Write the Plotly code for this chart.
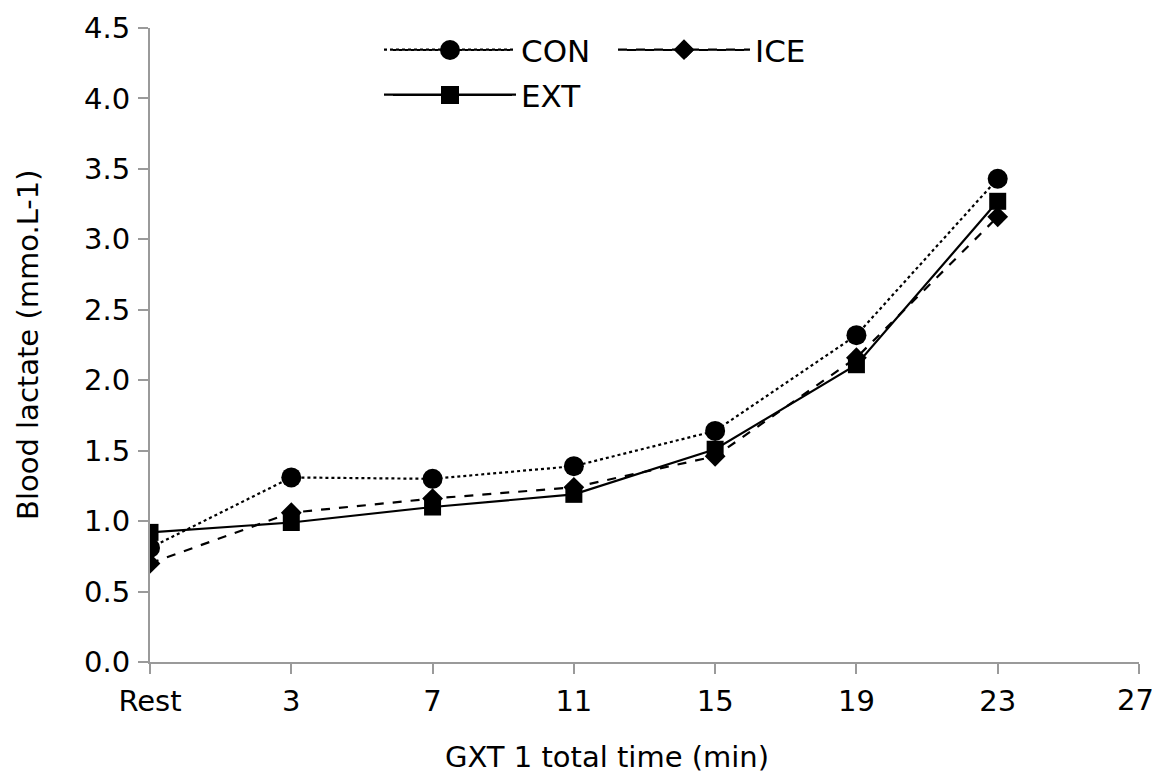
import plotly.graph_objects as go

categories = ["Rest", "3", "7", "11", "15", "19", "23", "27"]
con = [0.81, 1.31, 1.30, 1.39, 1.64, 2.32, 3.43]
ice = [0.70, 1.06, 1.16, 1.24, 1.46, 2.16, 3.16]
ext = [0.92, 0.99, 1.10, 1.19, 1.51, 2.11, 3.27]
y_ticks = [0.0, 0.5, 1.0, 1.5, 2.0, 2.5, 3.0, 3.5, 4.0, 4.5]

xpos = list(range(len(categories)))
FONT = "DejaVu Sans, Verdana, sans-serif"
AX = "#9a9a9a"

# page body has an 8px margin, so the figure is drawn shifted by 8px
OFF = 8
W, H = 1160 - OFF, 778 - OFF
ML, MT = 150 - OFF, 28 - OFF
MR = (W + OFF) - 1139
MB = (H + OFF) - 662
PW, PH = W - ML - MR, H - MT - MB


def px(x):
    return (x - OFF - ML) / PW


def py(y):
    return 1 - (y - OFF - MT) / PH


fig = go.Figure()
fig.add_trace(go.Scatter(x=xpos[:len(con)], y=con, name="CON", mode="lines+markers",
                         line=dict(color="black", width=2.2, dash="dot"),
                         marker=dict(symbol="circle", size=20, color="black"),
                         legend="legend", showlegend=True))
fig.add_trace(go.Scatter(x=xpos[:len(ice)], y=ice, name="ICE", mode="lines+markers",
                         line=dict(color="black", width=2.2, dash="dash"),
                         marker=dict(symbol="diamond", size=16, color="black"),
                         legend="legend2", showlegend=True))
fig.add_trace(go.Scatter(x=xpos[:len(ext)], y=ext, name="EXT", mode="lines+markers",
                         line=dict(color="black", width=2.2, dash="solid"),
                         marker=dict(symbol="square", size=17, color="black"),
                         legend="legend3", showlegend=True))

leg_common = dict(orientation="h", yanchor="middle", xanchor="left", visible=True,
                  font=dict(size=31), bgcolor="rgba(0,0,0,0)", itemwidth=132)

# legend sample decoration (longer lines, full-size symbols), paper coordinates
for (x0, x1, yy, dash) in [(393, 512, 50, "dot"), (627, 745, 50, "dash"), (393, 512, 95, "solid")]:
    fig.add_shape(type="line", xref="paper", yref="paper",
                  x0=px(x0), x1=px(x1), y0=py(yy), y1=py(yy),
                  line=dict(color="black", width=2, dash=dash))
fig.add_shape(type="circle", xref="paper", yref="paper",
              x0=px(440), x1=px(460), y0=py(60), y1=py(40),
              fillcolor="black", line=dict(width=0))
fig.add_shape(type="rect", xref="paper", yref="paper",
              x0=px(441), x1=px(459), y0=py(104), y1=py(86),
              fillcolor="black", line=dict(width=0))
fig.add_shape(type="path", xref="paper", yref="paper",
              path=f"M {px(678)},{py(50)} L {px(686)},{py(42)} L {px(694)},{py(50)} L {px(686)},{py(58)} Z",
              fillcolor="black", line=dict(width=0))

# last category label is drawn as an annotation, right-aligned so it stays inside the page
tick_text = categories[:-1] + [""]

fig.update_layout(
    width=W, height=H,
    showlegend=True,
    margin=dict(l=ML, r=MR, t=MT, b=MB),
    plot_bgcolor="white", paper_bgcolor="white",
    font=dict(family=FONT, size=29, color="black"),
    legend=dict(x=px(379), y=py(50), **leg_common),
    legend2=dict(x=px(613), y=py(50), **leg_common),
    legend3=dict(x=px(379), y=py(95), **leg_common),
    annotations=[dict(text="Blood lactate (mmo.L-1)", textangle=-90, showarrow=False,
                      xref="paper", yref="paper", x=px(28), y=py(345),
                      xanchor="center", yanchor="middle", font=dict(size=29)),
                 dict(text="GXT 1 total time (min)", showarrow=False,
                      xref="paper", yref="paper", x=px(607), y=py(757),
                      xanchor="center", yanchor="middle", font=dict(size=29)),
                 dict(text=categories[-1], showarrow=False,
                      xref="x", yref="paper", x=xpos[-1], xshift=17, y=py(700),
                      xanchor="right", yanchor="middle", font=dict(size=29))],
)
fig.update_xaxes(
    range=[0, len(categories) - 1], tickmode="array", tickvals=xpos, ticktext=tick_text,
    showline=True, linecolor=AX, linewidth=2, ticks="outside", ticklen=10,
    tickcolor=AX, tickwidth=2, showgrid=False, zeroline=False, automargin=False,
    ticklabelstandoff=2, ticklabeloverflow="allow",
    tickfont=dict(size=29),
)
fig.update_yaxes(
    range=[0, 4.5], tickmode="array", tickvals=y_ticks,
    ticktext=[f"{v:.1f}" for v in y_ticks],
    showline=True, linecolor=AX, linewidth=2, ticks="outside", ticklen=10,
    tickcolor=AX, tickwidth=2, showgrid=False, zeroline=False, automargin=False,
    ticklabelstandoff=2,
    tickfont=dict(size=29),
)

fig.write_html("out.html")
